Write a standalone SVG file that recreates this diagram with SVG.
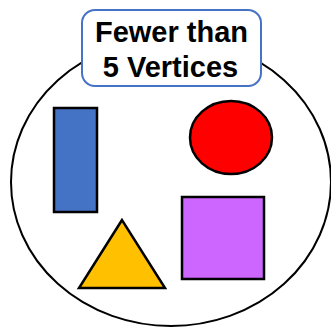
<svg xmlns="http://www.w3.org/2000/svg" width="331" height="327" viewBox="0 0 331 327">
<style>
.shape{stroke:#000;stroke-width:2.5}
.lbl{font-family:"Liberation Sans",Arial,sans-serif;font-weight:bold;font-size:29px;fill:#000;text-anchor:middle}
</style>
<rect width="331" height="327" fill="#fff"/>
<g id="set">
<ellipse cx="171" cy="182" rx="160" ry="144" fill="#fff" stroke="#000" stroke-width="2"/>
</g>
<g id="label">
<rect x="82" y="10" width="179" height="76" rx="13" fill="#fff" stroke="#4472C4" stroke-width="2"/>
<text class="lbl" x="171.5" y="42">Fewer than</text>
<text class="lbl" x="170.5" y="77">5 Vertices</text>
</g>
<g id="rectangle"><rect class="shape" x="54" y="108" width="43" height="104" fill="#4472C4"/></g>
<g id="circle"><ellipse class="shape" cx="231" cy="137.5" rx="41" ry="36.5" fill="#FF0000"/></g>
<g id="square"><rect class="shape" x="182" y="197" width="82" height="82" fill="#CC66FF"/></g>
<g id="triangle"><polygon class="shape" points="122,220 79,288 165,288" fill="#FFC000"/></g>
<g id="connectors"/>
</svg>
